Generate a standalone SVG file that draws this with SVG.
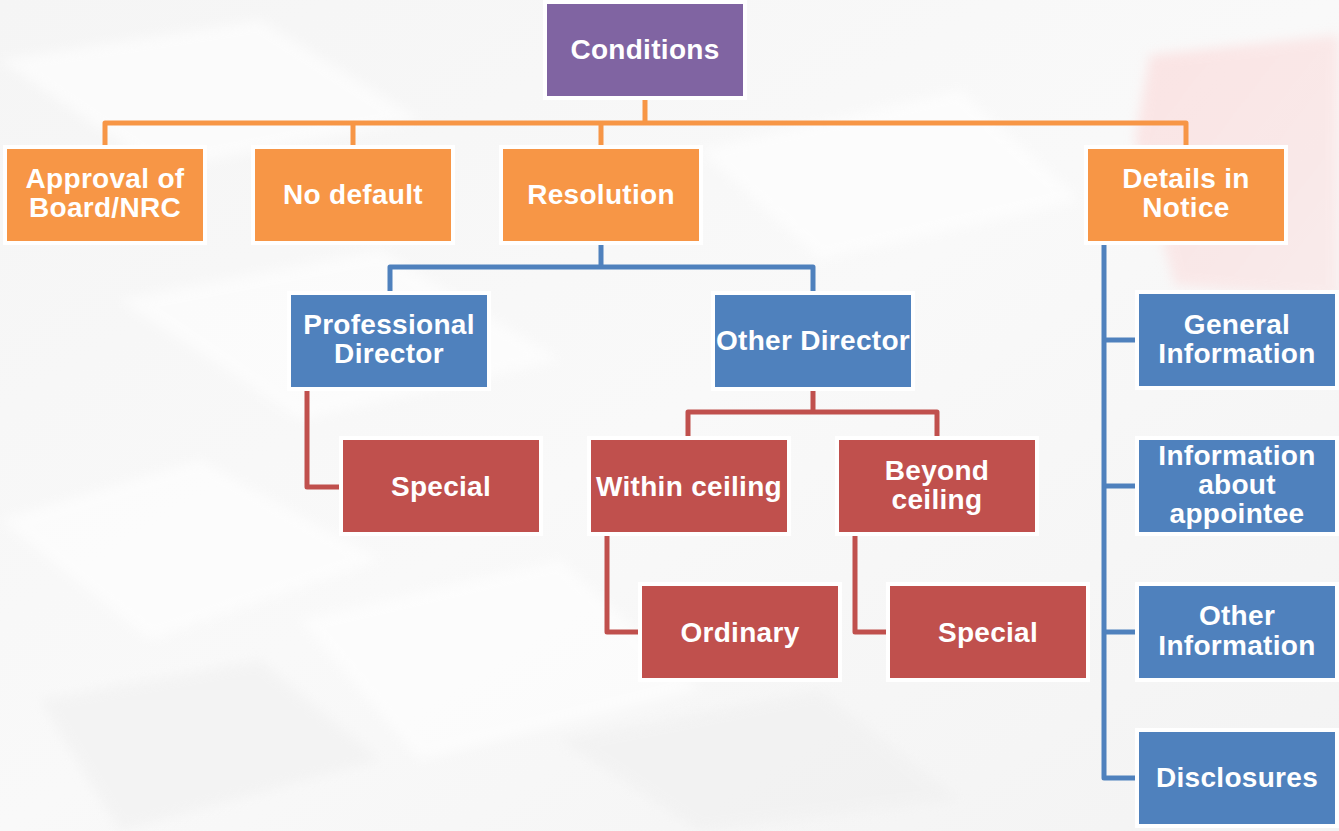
<svg xmlns="http://www.w3.org/2000/svg" width="1339" height="831" viewBox="0 0 1339 831">
<defs>
<linearGradient id="bg" x1="0" y1="0" x2="1" y2="1">
<stop offset="0" stop-color="#f5f5f5"/>
<stop offset="0.5" stop-color="#f9f9f9"/>
<stop offset="1" stop-color="#f3f3f3"/>
</linearGradient>
<linearGradient id="pink" x1="0" y1="0" x2="1" y2="1">
<stop offset="0" stop-color="#fcd6d6"/>
<stop offset="1" stop-color="#fbe4e4"/>
</linearGradient>
<filter id="blur" x="-20%" y="-20%" width="140%" height="140%"><feGaussianBlur stdDeviation="6"/></filter>
</defs>
<style>
.box rect{stroke:#ffffff;stroke-width:4}
.orange rect{fill:#F79646}
.purple rect{fill:#8064A2}
.blue rect{fill:#4F81BD}
.red rect{fill:#C0504D}
.box text{font-family:"Liberation Sans",Arial,sans-serif;font-weight:bold;font-size:28px;letter-spacing:0.3px;fill:#ffffff;text-anchor:middle}
.conn path{fill:none;stroke-width:5;stroke-linejoin:round;stroke-linecap:butt}
.co{stroke:#F79646}
.cb{stroke:#4F81BD}
.cr{stroke:#C0504D}
</style>
<rect x="0" y="0" width="1339" height="831" fill="url(#bg)"/>
<g filter="url(#blur)" opacity="0.6">
<path d="M0 60 L260 20 L420 120 L160 170 Z" fill="#ffffff"/>
<path d="M120 300 L380 250 L560 360 L300 420 Z" fill="#ffffff"/>
<path d="M0 520 L200 460 L380 560 L150 640 Z" fill="#ffffff"/>
<path d="M300 620 L560 560 L700 690 L420 760 Z" fill="#ffffff"/>
<path d="M700 150 L960 90 L1080 200 L820 260 Z" fill="#ffffff"/>
<path d="M40 700 L260 660 L380 760 L120 831 Z" fill="#f0f0f0"/>
<path d="M560 740 L820 690 L960 800 L700 831 Z" fill="#f0f0f0"/>
<path d="M1150 55 L1339 35 L1339 300 L1175 285 L1135 140 Z" fill="url(#pink)"/>
</g>
<g id="connectors" class="conn">
<path class="co" d="M645 98 V123 M105 147 V123 H1186 V147 M353 123 V147 M601 123 V147"/>
<path class="cb" d="M601 243 V267 M390 293 V267 H813 V293"/>
<path class="cr" d="M307 389 V487 H341"/>
<path class="cr" d="M813 389 V412 M688 438 V412 H937 V438"/>
<path class="cr" d="M607 534 V632 H640"/>
<path class="cr" d="M855 534 V632 H888"/>
<path class="cb" d="M1104 243 V778 H1137 M1104 340 H1137 M1104 486 H1137 M1104 632 H1137"/>
</g>
<g id="conditions" class="box purple"><rect x="545" y="2" width="200" height="96"/><text x="645" y="59">Conditions</text></g>
<g id="approval" class="box orange"><rect x="5" y="147" width="200" height="96"/><text x="105" y="188">Approval of</text><text x="105" y="217">Board/NRC</text></g>
<g id="nodefault" class="box orange"><rect x="253" y="147" width="200" height="96"/><text x="353" y="204">No default</text></g>
<g id="resolution" class="box orange"><rect x="501" y="147" width="200" height="96"/><text x="601" y="204">Resolution</text></g>
<g id="details" class="box orange"><rect x="1086" y="147" width="200" height="96"/><text x="1186" y="188">Details in</text><text x="1186" y="217">Notice</text></g>
<g id="professional" class="box blue"><rect x="289" y="293" width="200" height="96"/><text x="389" y="334">Professional</text><text x="389" y="363">Director</text></g>
<g id="otherdirector" class="box blue"><rect x="713" y="293" width="200" height="96"/><text x="813" y="350">Other Director</text></g>
<g id="special1" class="box red"><rect x="341" y="438" width="200" height="96"/><text x="441" y="496">Special</text></g>
<g id="within" class="box red"><rect x="589" y="438" width="200" height="96"/><text x="689" y="496">Within ceiling</text></g>
<g id="beyond" class="box red"><rect x="837" y="438" width="200" height="96"/><text x="937" y="480">Beyond</text><text x="937" y="509">ceiling</text></g>
<g id="ordinary" class="box red"><rect x="640" y="584" width="200" height="96"/><text x="740" y="642">Ordinary</text></g>
<g id="special2" class="box red"><rect x="888" y="584" width="200" height="96"/><text x="988" y="642">Special</text></g>
<g id="general" class="box blue"><rect x="1137" y="292" width="200" height="96"/><text x="1237" y="334">General</text><text x="1237" y="363">Information</text></g>
<g id="appointee" class="box blue"><rect x="1137" y="438" width="200" height="96"/><text x="1237" y="465">Information</text><text x="1237" y="494">about</text><text x="1237" y="523">appointee</text></g>
<g id="otherinfo" class="box blue"><rect x="1137" y="584" width="200" height="96"/><text x="1237" y="625">Other</text><text x="1237" y="655">Information</text></g>
<g id="disclosures" class="box blue"><rect x="1137" y="730" width="200" height="96"/><text x="1237" y="787">Disclosures</text></g>
</svg>
